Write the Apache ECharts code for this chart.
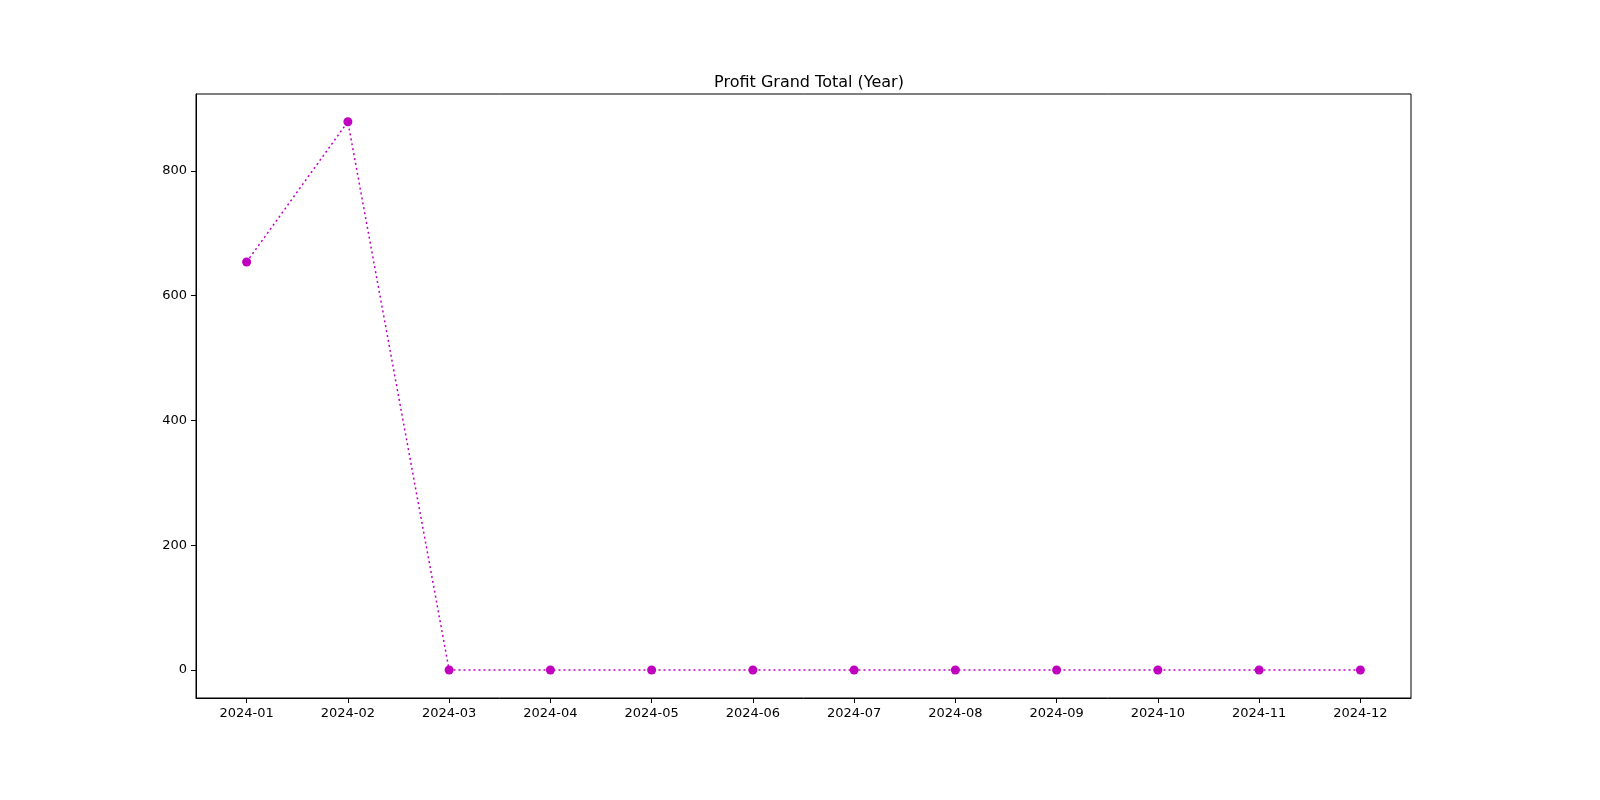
<!DOCTYPE html>
<html><head><meta charset="utf-8">
<script src="https://cdn.jsdelivr.net/npm/echarts@6/dist/echarts.min.js"></script>
<style>html,body{margin:0;padding:0;background:#fff}#c{width:1600px;height:800px}</style>
</head><body><div id="c"></div>
<script>
const categories = ['2024-01','2024-02','2024-03','2024-04','2024-05','2024-06','2024-07','2024-08','2024-09','2024-10','2024-11','2024-12'];
const profit = [654, 879, 0, 0, 0, 0, 0, 0, 0, 0, 0, 0];
const yTicks = [0, 200, 400, 600, 800];
const chart = echarts.init(document.getElementById('c'));
chart.setOption({
  animation: false,
  title: {text: 'Profit Grand Total (Year)', left: 804, top: 70, textAlign: 'center',
    textStyle: {fontFamily: 'DejaVu Sans', fontSize: 16, fontWeight: 'normal', color: '#000'}},
  grid: {left: 196, right: 189, top: 94, bottom: 102, show: true, borderColor: '#000', borderWidth: 1},
  xAxis: {type: 'category', data: categories, boundaryGap: true,
    axisLine: {onZero: false, lineStyle: {color: '#000'}},
    axisTick: {show: true, alignWithLabel: true, lineStyle: {color: '#000'}, length: 5},
    axisLabel: {color: '#000', fontFamily: 'DejaVu Sans', fontSize: 13, margin: 9}},
  yAxis: {type: 'value', min: -44.9, max: 923.4,
    splitLine: {show: false},
    axisLine: {show: true, lineStyle: {color: '#000'}},
    axisTick: {show: true, customValues: yTicks, lineStyle: {color: '#000'}, length: 5},
    axisLabel: {customValues: yTicks, color: '#000', fontFamily: 'DejaVu Sans', fontSize: 13, margin: 9}},
  series: [{type: 'line', data: profit, symbol: 'circle', symbolSize: 9,
    lineStyle: {color: '#bf00bf', type: [2, 3], width: 1.5},
    itemStyle: {color: '#bf00bf'}}]
});
</script></body></html>
